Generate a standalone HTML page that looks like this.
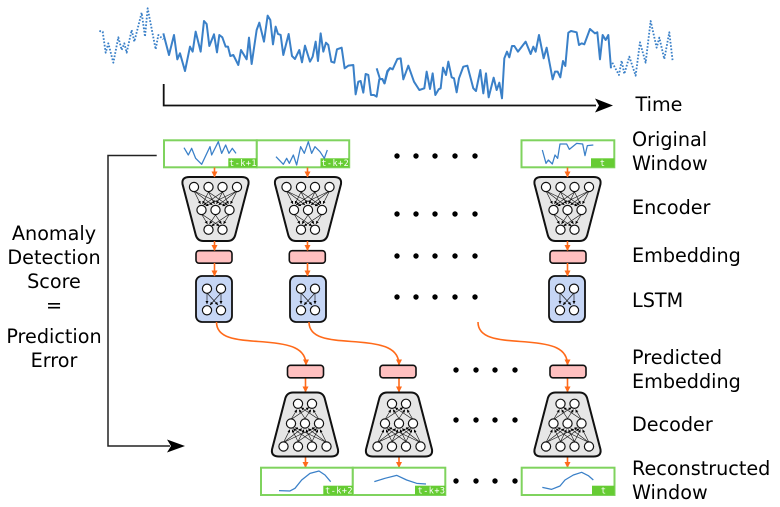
<!DOCTYPE html>
<html><head><meta charset="utf-8"><style>
html,body{margin:0;padding:0;background:#fff}
svg{display:block}
text{font-family:"DejaVu Sans",sans-serif;font-size:19.2px;fill:#000}
.w{fill:#fff;stroke:#7fd35e;stroke-width:2}
.g{fill:#66cc33}
text.l{font-family:"DejaVu Sans Mono",monospace;font-size:8.5px;fill:#fff;letter-spacing:.45px;text-anchor:end}
.s{fill:none;stroke:#3a80c8;stroke-linejoin:round}
.o{fill:none;stroke:#ff6a1a;stroke-width:1.6}
.e{fill:#ffc0c0;stroke:#111;stroke-width:1.600}
.n{fill:#fff;stroke:#111;stroke-width:1.200}
.c{fill:none;stroke:#111;stroke-width:.65}
.m{text-anchor:middle}
</style></head><body>
<svg width="780" height="507" viewBox="0 0 780 507" xmlns="http://www.w3.org/2000/svg">
<defs>
<marker id="a" markerWidth="7" markerHeight="7" refX="5.500" refY="3" orient="auto" markerUnits="userSpaceOnUse"><path d="M0 0L6 3L0 6z" fill="#ff6a1a"/></marker>
<marker id="b" markerWidth="4" markerHeight="4" refX="3" refY="1.500" orient="auto" markerUnits="userSpaceOnUse"><path d="M0 0L3 1.500L0 3z" fill="#000"/></marker>
<g id="net">
<path d="M-26 0H26Q34 0 33 7L20 57Q18.500 64 12 64H-12Q-18.500 64-20 57L-33 7Q-34 0-26 0Z" fill="#e6e6e6" stroke="#111" stroke-width="2"/>
<g class="c">
<path d="M-21.500 14L-15 27" marker-end="url(#b)"/><path d="M-21.500 14L-3 28" marker-end="url(#b)"/><path d="M-21.500 14L10 29" marker-end="url(#b)"/>
<path d="M-7 15L-13 27" marker-end="url(#b)"/><path d="M-7 15L-1 27" marker-end="url(#b)"/><path d="M-7 15L12 28" marker-end="url(#b)"/>
<path d="M7 15L-12 28" marker-end="url(#b)"/><path d="M7 15L1 27" marker-end="url(#b)"/><path d="M7 15L13 27" marker-end="url(#b)"/>
<path d="M21.500 14L-10 29" marker-end="url(#b)"/><path d="M21.500 14L3 28" marker-end="url(#b)"/><path d="M21.500 14L15 27" marker-end="url(#b)"/>
<path d="M-14 37L-8 47" marker-end="url(#b)"/><path d="M-14 37L4 49" marker-end="url(#b)"/>
<path d="M0 38L-6 47" marker-end="url(#b)"/><path d="M0 38L6 47" marker-end="url(#b)"/>
<path d="M14 37L-4 49" marker-end="url(#b)"/><path d="M14 37L8 47" marker-end="url(#b)"/>
</g>
<g class="n">
<circle cx="-21.500" cy="10" r="4.600"/><circle cx="-7" cy="10" r="4.600"/><circle cx="7" cy="10" r="4.600"/><circle cx="21.500" cy="10" r="4.600"/>
<circle cx="-14" cy="33" r="4.600"/><circle cx="0" cy="33" r="4.600"/><circle cx="14" cy="33" r="4.600"/>
<circle cx="-7" cy="52.700" r="4.600"/><circle cx="7" cy="52.700" r="4.600"/>
</g>
</g>
<g id="lstm">
<rect x="-18" y="0" width="36" height="46" rx="6" fill="#c6d6f5" stroke="#111" stroke-width="1.800"/>
<g class="c">
<path d="M-7 17L-7 28" marker-end="url(#b)"/><path d="M7 17L7 28" marker-end="url(#b)"/>
<path d="M-7 17L4 29" marker-end="url(#b)"/><path d="M7 17L-4 29" marker-end="url(#b)"/>
</g>
<g class="n"><circle cx="-7" cy="12.700" r="4.600"/><circle cx="7" cy="12.700" r="4.600"/><circle cx="-7" cy="34.300" r="4.600"/><circle cx="7" cy="34.300" r="4.600"/></g>
</g>
<rect id="emb" x="-18" y="0" width="36" height="12.500" rx="3" class="e"/>
</defs>

<!-- time series -->
<g transform="translate(90 0) scale(.3333)">
<path class="s" stroke-width="5.500" stroke-dasharray="5 5" d="M28 93L38 95L47 158L55 130L70 188L85 112L95 150L103 130L110 158L125 90L133 125L155 38L165 110L173 25L197 148L205 105L220 118"/>
<path class="s" stroke-width="6" d="M220 100L237 165L252 105L262 178L270 160L285 213L300 140L308 155L317 95L332 155L342 63L350 72L358 138L372 103L381 157L388 105L397 112L407 140L414 140L421 168L430 165L445 195L453 150L470 178L477 113L485 192L500 90L508 68L522 125L533 47L541 60L549 133L557 80L564 102L572 105L580 165L596 102L606 168L615 177L628 150L636 187L645 137L660 185L668 170L677 125L684 183L692 100L700 155L708 128L715 135L724 185L733 188L741 148L755 143L764 205L775 197L790 195L797 283L805 245L812 243L820 278L827 222L835 225L843 285L852 285L860 290L868 238L877 237L884 250L893 215L900 205"/>
</g>
<g transform="translate(380 0) scale(.3333)">
<path class="s" stroke-width="6" d="M-10 205L0 237L7 237L13 250L22 213L30 204L38 208L52 177L62 175L70 238L85 197L102 245L118 270L133 265L140 215L150 267L158 220L166 285L176 268L182 265L189 203L198 225L205 185L215 232L222 235L230 277L237 235L250 200L262 197L280 265L288 273L301 210L310 280L318 220L326 292L341 233L350 270L358 248L366 295L373 175L381 155L388 172L396 138L403 138L414 155L437 125L452 162L460 140L467 155L477 105L491 175L500 143L518 238L525 215L533 215L541 232L549 183L556 198L565 98L573 93L590 97L597 135L605 130L613 133L630 87L645 100L652 97L660 178L668 105L677 120L685 105L693 205"/>
<path class="s" stroke-width="5.500" stroke-dasharray="5 5" d="M697 188L717 225L725 182L733 222L748 170L767 227L780 127L797 188L812 63L830 143L838 113L853 177L868 97L878 183"/>
</g>

<!-- time axis -->
<path d="M163.700 84V105.500H596" fill="none" stroke="#111" stroke-width="1.800"/>
<path d="M595 98.500L613 105.500L595 112.500L599 105.500Z" fill="#000"/>
<text x="635.500" y="111">Time</text>

<!-- bracket -->
<path d="M156.700 155.500H108V446H170" fill="none" stroke="#222" stroke-width="1.500"/>
<path d="M167 439.500L185 446L167 452.500L171 446Z" fill="#000"/>

<!-- top windows -->
<rect class="w" x="164" y="140.300" width="92.800" height="27"/>
<rect class="w" x="256.800" y="140.300" width="92.400" height="27"/>
<rect class="w" x="521.500" y="140.300" width="92.800" height="27"/>
<rect class="g" x="228.300" y="158.300" width="28.500" height="9"/>
<rect class="g" x="320.500" y="158.300" width="28.500" height="9"/>
<rect class="g" x="591" y="158.300" width="23.300" height="9"/>
<text class="l" x="257" y="165.800">t-k+1</text>
<text class="l" x="349.200" y="165.800">t-k+2</text>
<text class="l" x="605.500" y="165.800">t</text>
<g transform="translate(155 135) scale(.3333)" class="s" stroke-width="3.800">
<path d="M87 38L100 60L110 40L122 70L140 88L165 35L170 60L190 20L200 55L212 30L222 55L232 40L243 55"/>
<path d="M363 65L385 88L395 70L403 85L415 60L425 90L437 35L448 55L460 20L470 55L480 35L495 50L508 70L517 45"/>
</g>
<path transform="translate(510 135) scale(.3333)" class="s" stroke-width="3.800" d="M97 45L108 85L115 75L127 87L135 60L143 70L150 27L170 27L178 43L200 25L218 27L225 62L232 32L250 30"/>

<!-- encoders -->
<use href="#net" x="215.500" y="177"/>
<use href="#net" x="308" y="177"/>
<use href="#net" x="567.500" y="177"/>
<!-- embeddings -->
<use href="#emb" x="214" y="250.700"/>
<use href="#emb" x="307.300" y="250.700"/>
<use href="#emb" x="568" y="250.700"/>
<!-- lstm -->
<use href="#lstm" x="214" y="276"/>
<use href="#lstm" x="308" y="276"/>
<use href="#lstm" x="567" y="276"/>

<!-- orange vertical -->
<g class="o">
<path d="M214.500 167.500V177" marker-end="url(#a)"/><path d="M307.500 167.500V177" marker-end="url(#a)"/><path d="M567.500 167.500V177" marker-end="url(#a)"/>
<path d="M214.500 241V250.500" marker-end="url(#a)"/><path d="M307.500 241V250.500" marker-end="url(#a)"/><path d="M567.500 241V250.500" marker-end="url(#a)"/>
<path d="M214.500 263V276" marker-end="url(#a)"/><path d="M307.500 263V276" marker-end="url(#a)"/><path d="M567.500 263V276" marker-end="url(#a)"/>
<path d="M216.500 322C216.500 340 240 340 265 342C290 344 306 348 306 365" marker-end="url(#a)"/>
<path d="M309 322C309 340 333 340 358 342C383 344 399 348 399 365" marker-end="url(#a)"/>
<path d="M478 322C478 340 502 340 527 342C552 344 567.500 348 567.500 365" marker-end="url(#a)"/>
<path d="M305.500 377.500V392" marker-end="url(#a)"/><path d="M399 377.500V392" marker-end="url(#a)"/><path d="M567.500 377.500V392" marker-end="url(#a)"/>
<path d="M305.500 457V467.500" marker-end="url(#a)"/><path d="M399 457V467.500" marker-end="url(#a)"/><path d="M567.500 457V467.500" marker-end="url(#a)"/>
</g>

<!-- predicted embeddings -->
<use href="#emb" x="305.500" y="365.300"/>
<use href="#emb" x="398" y="365.300"/>
<use href="#emb" x="568" y="365.300"/>

<!-- decoders -->
<g transform="translate(305 456.500) scale(1 -1)"><use href="#net"/></g>
<g transform="translate(399 456.500) scale(1 -1)"><use href="#net"/></g>
<g transform="translate(567.500 456.500) scale(1 -1)"><use href="#net"/></g>

<!-- bottom windows -->
<rect class="w" x="261" y="467.700" width="91.800" height="27.300"/>
<rect class="w" x="352.800" y="467.700" width="92.500" height="27.300"/>
<rect class="w" x="521.700" y="467.700" width="92.800" height="27.300"/>
<rect class="g" x="323.300" y="485.700" width="29.500" height="9.300"/>
<rect class="g" x="415" y="485.700" width="30.300" height="9.300"/>
<rect class="g" x="592" y="485.700" width="22.500" height="9.300"/>
<text class="l" x="353" y="493.300">t-k+2</text>
<text class="l" x="445.500" y="493.300">t-k+3</text>
<text class="l" x="606.500" y="493.300">t</text>
<g transform="translate(260 385) scale(.3333)" class="s" stroke-width="3.800">
<path d="M57 317L90 318L105 310L125 285L150 265L177 258L195 270L212 290"/>
<path d="M343 290L375 280L410 271L440 285L470 295L498 297"/>
</g>
<path transform="translate(510 385) scale(.3333)" class="s" stroke-width="3.800" d="M97 307L125 313L150 303L165 285L190 270L215 262L235 272L250 285"/>

<!-- dots -->
<g fill="#000">
<circle cx="397" cy="156" r="2.700"/><circle cx="416" cy="156" r="2.700"/><circle cx="435" cy="156" r="2.700"/><circle cx="455" cy="156" r="2.700"/><circle cx="475" cy="156" r="2.700"/>
<circle cx="397" cy="214" r="2.700"/><circle cx="416" cy="214" r="2.700"/><circle cx="435" cy="214" r="2.700"/><circle cx="455" cy="214" r="2.700"/><circle cx="475" cy="214" r="2.700"/>
<circle cx="397" cy="256" r="2.700"/><circle cx="416" cy="256" r="2.700"/><circle cx="435" cy="256" r="2.700"/><circle cx="455" cy="256" r="2.700"/><circle cx="475" cy="256" r="2.700"/>
<circle cx="397" cy="297" r="2.700"/><circle cx="416" cy="297" r="2.700"/><circle cx="435" cy="297" r="2.700"/><circle cx="455" cy="297" r="2.700"/><circle cx="475" cy="297" r="2.700"/>
<circle cx="456" cy="370" r="2.700"/><circle cx="476" cy="370" r="2.700"/><circle cx="495" cy="370" r="2.700"/><circle cx="515" cy="370" r="2.700"/>
<circle cx="456" cy="420" r="2.700"/><circle cx="476" cy="420" r="2.700"/><circle cx="495" cy="420" r="2.700"/><circle cx="515" cy="420" r="2.700"/>
<circle cx="456" cy="481" r="2.700"/><circle cx="476" cy="481" r="2.700"/><circle cx="495" cy="481" r="2.700"/><circle cx="515" cy="481" r="2.700"/>
</g>

<!-- labels -->
<text x="632" y="146">Original</text>
<text x="632" y="170">Window</text>
<text x="632" y="214">Encoder</text>
<text x="632" y="262">Embedding</text>
<text x="632" y="307">LSTM</text>
<text x="632" y="364">Predicted</text>
<text x="632" y="388">Embedding</text>
<text x="632" y="431">Decoder</text>
<text x="632" y="475">Reconstructed</text>
<text x="632" y="499">Window</text>

<text class="m" x="54" y="240">Anomaly</text>
<text class="m" x="54" y="264">Detection</text>
<text class="m" x="54" y="288">Score</text>
<text class="m" x="54" y="312">=</text>
<text class="m" x="54" y="343">Prediction</text>
<text class="m" x="54" y="367">Error</text>
</svg>
</body></html>
